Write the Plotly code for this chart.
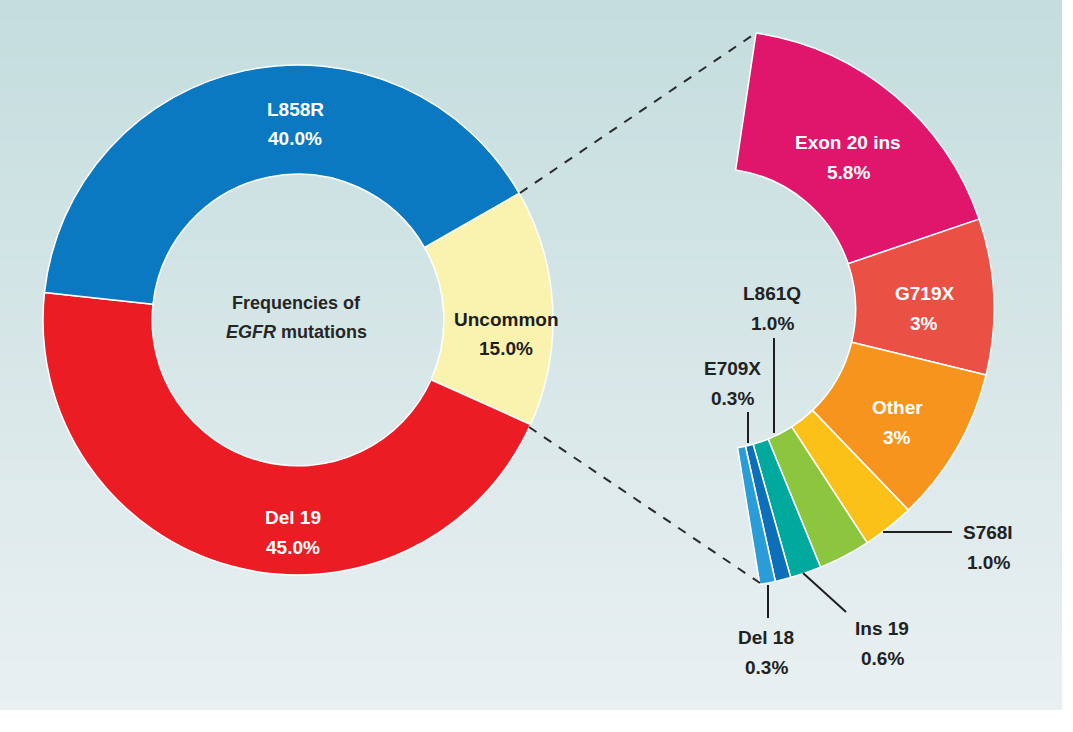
import plotly.graph_objects as go

W, H = 1073, 732
FONT = "Liberation Sans, Arial, sans-serif"

# main donut
main_labels = ["Uncommon", "Del 19", "L858R"]
main_values = [15.0, 45.0, 40.0]
main_colors = ["#FAF3AF", "#EC1C24", "#0B79C2"]
main_text_colors = ["#1e1e1e", "white", "white"]

# breakdown of uncommon mutations
sub_labels = ["Exon 20 ins", "G719X", "Other", "S768I", "L861Q", "Ins 19", "Del 18", "E709X"]
sub_values = [5.8, 3, 3, 1.0, 1.0, 0.6, 0.3, 0.3]
sub_pct = ["5.8%", "3%", "3%", "1.0%", "1.0%", "0.6%", "0.3%", "0.3%"]
sub_colors = ["#DF166C", "#EB5045", "#F7941D", "#FBC118", "#8CC63F", "#00A99D", "#0C6FB8", "#2A9CD8"]
sub_inside = [True, True, True, False, False, False, False, False]


def px(x, y):
    return x / W, 1 - y / H


def domain(cx, cy, r):
    x0, y0 = px(cx - r, cy + r)
    x1, y1 = px(cx + r, cy - r)
    return dict(x=[x0, x1], y=[y0, y1])


fig = go.Figure()

# left donut: centre (298, 320), radius 255
fig.add_trace(go.Pie(
    labels=main_labels, values=main_values, sort=False,
    direction="clockwise", rotation=60.2, hole=0.572,
    marker=dict(colors=main_colors, line=dict(color="white", width=1.5)),
    textinfo="none", hoverinfo="label+percent", showlegend=False,
    domain=domain(298, 320, 255),
))

# right fan: only ~162 degrees of a full ring are drawn, the rest is a hidden slice
fan_span = 162.3
hidden = sum(sub_values) * (360 / fan_span - 1)
fig.add_trace(go.Pie(
    labels=sub_labels + [""], values=sub_values + [hidden], sort=False,
    direction="clockwise", rotation=8.45, hole=0.504,
    marker=dict(colors=sub_colors + ["rgba(0,0,0,0)"],
                line=dict(color="white", width=[1.5] * len(sub_values) + [0])),
    textinfo="none", hoverinfo="skip", showlegend=False,
    domain=domain(715, 309, 279),
))


def label(x, y, lines, color, size=19, gap=30):
    for i, t in enumerate(lines):
        ax, ay = px(x, y + i * gap)
        fig.add_annotation(
            x=ax, y=ay, xref="paper", yref="paper", text=t, showarrow=False,
            xanchor="center", yanchor="middle",
            font=dict(family=FONT, size=size, color=color),
        )


main_pos = [(506, 319), (293, 517), (295, 109)]
for name, v, c, (x, y) in zip(main_labels, main_values, main_text_colors, main_pos):
    label(x, y, [f"<b>{name}</b>", f"<b>{v:.1f}%</b>"], c)

label(296, 303, ["<b>Frequencies of</b>", "<b><i>EGFR</i> mutations</b>"], "#262626", size=18, gap=29)

sub_pos = [(848, 142), (924, 293), (897, 407), (988, 532),
           (772, 293), (882, 628), (766, 637), (732, 368)]
for name, pct, inside, (x, y) in zip(sub_labels, sub_pct, sub_inside, sub_pos):
    color = "white" if inside else "#222222"
    label(x, y, [f"<b>{name}</b>", f"<b>{pct}</b>"], color)

# leader lines for the small slices
leaders = [
    ((774, 338), (774, 433)),
    ((748, 412), (748, 443)),
    ((883, 532), (952, 532)),
    ((803, 573), (846, 612)),
    ((768, 585), (768, 618)),
]
for (xa, ya), (xb, yb) in leaders:
    x0, y0 = px(xa, ya)
    x1, y1 = px(xb, yb)
    fig.add_shape(type="line", xref="paper", yref="paper", x0=x0, y0=y0, x1=x1, y1=y1,
                  line=dict(color="#1e1e1e", width=2))

# dashed connectors between the uncommon slice and the fan
for (xa, ya), (xb, yb) in [((520, 193), (756, 33)), ((529, 427), (760, 583))]:
    x0, y0 = px(xa, ya)
    x1, y1 = px(xb, yb)
    fig.add_shape(type="line", xref="paper", yref="paper", x0=x0, y0=y0, x1=x1, y1=y1,
                  line=dict(color="#2a2a2a", width=2, dash="dash"))

# soft vertical background gradient
top, bottom = (196, 221, 222), (234, 240, 242)
bg_h, bg_w, step = 710, 1062, 10
for i in range(0, bg_h, step):
    t = i / bg_h
    c = tuple(round(a + (b - a) * t) for a, b in zip(top, bottom))
    x0, y0 = px(0, i + step)
    x1, y1 = px(bg_w, i)
    fig.add_shape(type="rect", xref="paper", yref="paper", x0=x0, y0=y0, x1=x1, y1=y1,
                  fillcolor=f"rgb{c}", line=dict(width=0), layer="below")

fig.update_layout(
    width=W, height=H,
    margin=dict(l=0, r=0, t=0, b=0),
    paper_bgcolor="white", plot_bgcolor="white",
    font=dict(family=FONT),
)

# drop the default page margin so the figure sits at the top-left corner
fig.write_html(
    "out.html",
    config={"displayModeBar": False},
    post_script="document.body.style.margin = '0';",
)
